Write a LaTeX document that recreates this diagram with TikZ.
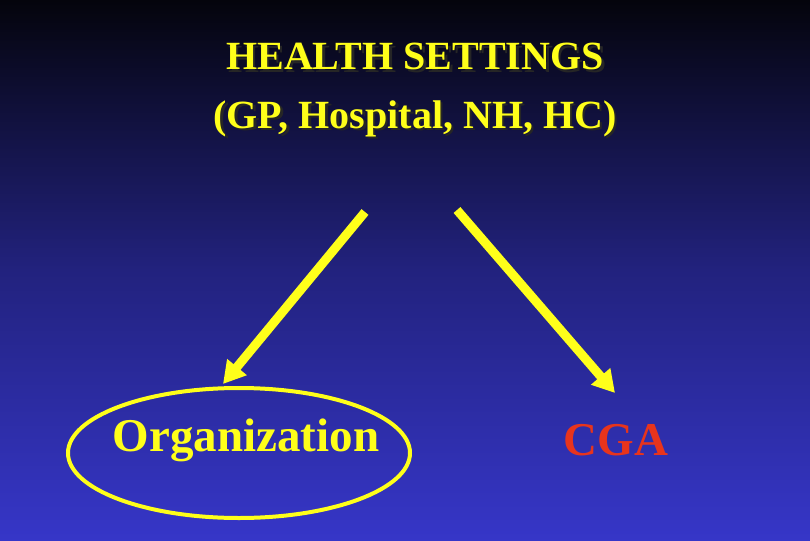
\documentclass[tikz,border=0pt]{standalone}
\usepackage{fontspec}
\setmainfont{Liberation Serif}
\usetikzlibrary{arrows.meta,shapes.geometric}
\definecolor{bgtop}{HTML}{04040C}
\definecolor{bgmid}{HTML}{22227E}
\definecolor{bgbot}{HTML}{3636C8}
\definecolor{ylw}{HTML}{FFFF1A}
\definecolor{cgared}{HTML}{E8341C}
\newcommand{\shadowed}[1]{\rlap{\hspace{2.5pt}\raisebox{-2.5pt}{\color{black!85}#1}}#1}
\tikzset{
  title/.style={font=\bfseries\fontsize{40}{44}\selectfont, text=ylw},
  arr/.style={ylw, line width=9pt, -{Triangle[width=24pt,length=22pt]}},
  big/.style={font=\bfseries\fontsize{47}{52}\selectfont}
}
\begin{document}
\begin{tikzpicture}[x=1pt,y=-1pt]
\shade[top color=bgtop, bottom color=bgbot, middle color=bgmid] (0,0) rectangle (810,540);
\useasboundingbox (0,0) rectangle (810,540);
\node[title] (t1) at (415,58) {\shadowed{HEALTH SETTINGS}};
\node[title] (t2) at (415,120) {\shadowed{(GP, Hospital, NH, HC)}};
\coordinate (a1s) at (365,212);
\coordinate (a2s) at (457,210);
\node[draw=ylw, line width=4pt, ellipse, minimum width=342pt, minimum height=130pt] (ell) at (239,453) {};
\node[big, text=ylw] (org) at (246,440) {Organization};
\node[big, text=cgared] (cga) at (616,440) {CGA};
\coordinate (a1e) at (223,384);
\coordinate (a2e) at (615,393);
\draw[arr] (a1s) -- (a1e);
\draw[arr] (a2s) -- (a2e);
\end{tikzpicture}
\end{document}
